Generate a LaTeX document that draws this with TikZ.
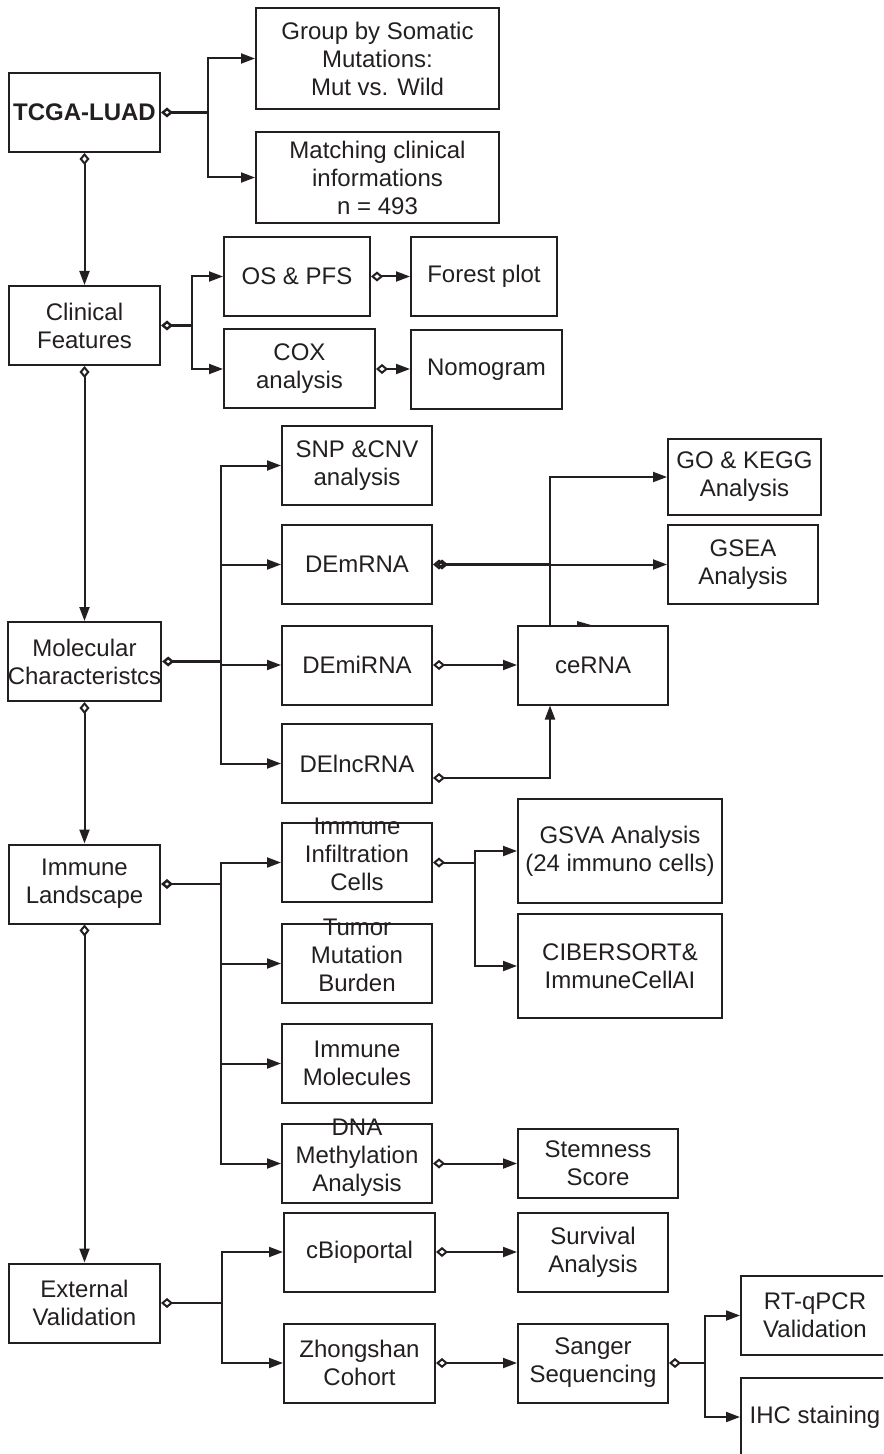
\documentclass[tikz,border=0pt]{standalone}
\usepackage{fontspec}
\setmainfont{Liberation Sans}
\usetikzlibrary{arrows.meta}
\definecolor{ink}{RGB}{35,31,32}
\newcommand{\overstack}[1]{\smash{\begin{tabular}{@{}c@{}}#1\end{tabular}}}

\begin{document}
\begin{tikzpicture}[x=0.5pt,y=-0.5pt,color=ink,line width=1pt,
    box/.style={draw,inner sep=0pt,minimum width=75.5pt,minimum height=39.5pt,align=center,font=\fontsize{12}{14}\selectfont},
    link/.style={-{Triangle[length=7pt,width=5pt]}},
    dlink/.style={{Diamond[open,length=6pt,width=5pt]}-{Triangle[length=7pt,width=5pt]}},
    dline/.style={{Diamond[open,length=6pt,width=5pt]}-}]

            \useasboundingbox (0,0) rectangle (883,1454);
            \clip (0,0) rectangle (883,1454);

            % left column
            \node[box] (tcga) at (84.5,112.5) {\bfseries TCGA-LUAD};
            \node[box] (clin) at (84.5,325.5) {Clinical\\Features};
            \node[box] (mol) at (84.5,661.5) {Molecular\\Characteristcs};
            \node[box] (imm) at (84.5,884) {Immune\\Landscape};
            \node[box] (ext) at (84.5,1303) {External\\Validation};

            \node[box, minimum width=121.5pt, minimum height=50.5pt] (grp) at (377.5,58.5) {Group by Somatic\\Mutations:\\Mut vs. Wild};
            \node[box, minimum width=121.5pt, minimum height=45.5pt] (match) at (377.5,177.5) {Matching clinical\\informations\\n = 493};
            \node[box, minimum width=73pt] (os) at (297,276.5) {OS \& PFS};
            \node[box] (cox) at (299.5,369) {COX\\analysis};
            \node[box, minimum width=73pt] (forest) at (484,276.5) {Forest plot};
            \node[box] (nomo) at (486.5,370) {Nomogram};

            \node[box, minimum width=75pt] (snp) at (357,465.5) {SNP \&CNV\\analysis};
            \node[box, minimum width=75pt] (dem) at (357,564.5) {DEmRNA};
            \node[box, minimum width=75pt] (demi) at (357,665) {DEmiRNA};
            \node[box, minimum width=75pt] (delnc) at (357,763.5) {DElncRNA};
            \node[box, minimum width=75pt] (cer) at (593,665) {ceRNA};
            \node[box, minimum width=76.5pt, minimum height=38pt] (go) at (744.5,477) {GO \& KEGG\\Analysis};
            \node[box, minimum width=75pt] (gsea) at (743,564.5) {GSEA\\Analysis};

            \node[box, minimum width=75pt] (iic) at (357,862.5) {\overstack{Immune\\Infiltration\\Cells}};
            \node[box, minimum width=75pt] (tmb) at (357,963.5) {\overstack{Tumor\\Mutation\\Burden}};
            \node[box, minimum width=75pt] (immol) at (357,1063.5) {Immune\\Molecules};
            \node[box, minimum width=75pt] (dna) at (357,1163.5) {\overstack{DNA\\Methylation\\Analysis}};
            \node[box, minimum width=102pt, minimum height=52pt] (gsva) at (620,851) {GSVA Analysis\\(24 immuno cells)};
            \node[box, minimum width=102pt, minimum height=52pt] (cib) at (620,966) {CIBERSORT\&\\ImmuneCellAI};
            \node[box, minimum width=80pt, minimum height=34.5pt] (stem) at (598,1163.5) {Stemness\\Score};

            \node[box] (cbio) at (359.5,1252) {cBioportal};
            \node[box] (zhong) at (359.5,1363) {Zhongshan\\Cohort};
            \node[box, minimum width=75pt] (surv) at (593,1252.5) {Survival\\Analysis};
            \node[box, minimum width=75pt] (sang) at (593,1363) {Sanger\\Sequencing};
            \node[box, minimum width=74pt] (rtq) at (815,1315.5) {RT-qPCR\\Validation};
            \node[box, minimum width=74pt, minimum height=39pt] (ihc) at (815,1417) {IHC staining};

            % connectors
            \draw[dline, line width=1.2pt] (tcga.east) -- (208,112.5) coordinate (t1);
            \draw[link] (t1) |- (grp.west);
            \draw[link] (t1) |- (match.west);
            \draw[dlink] (tcga.south) -- (clin.north);

            \draw[dline, line width=1.2pt] (clin.east) -- (192,325.5) coordinate (c1);
            \draw[link] (c1) |- (os.west);
            \draw[link] (c1) |- (cox.west);
            \draw[dlink] (os.east) -- (forest.west);
            \draw[dlink] (cox.east) -- (cox.east -| nomo.west);
            \draw[dlink] (clin.south) -- (mol.north);

            \draw[dline, line width=1.2pt] (mol.east) -- (221,661.5) coordinate (m1);
            \foreach \n in {snp,dem,demi,delnc}
                \draw[link] (m1) |- (\n.west);
            \coordinate (r1) at (550,778);
            \draw[dlink] (dem.east) -- (gsea.west);
            \draw[dline, line width=1.2pt] ([xshift=1.5pt]dem.east) -- (dem.east -| r1);
            \draw[link] (r1 |- cer.north) |- (go.west);
            \fill (577,621) -- (591,625) -- (577,625.5) -- cycle;
            \draw[dlink] (demi.east) -- (cer.west);
            \draw[dlink] (delnc.east |- r1) -- (r1) -- (r1 |- cer.south);
            \draw[dlink] (mol.south) -- (imm.north);

            \draw[dline, line width=1.2pt] (imm.east) -- (221,884) coordinate (i1);
            \foreach \n in {iic,tmb,immol,dna}
                \draw[link] (i1) |- (\n.west);
            \draw[dline] (iic.east) -- (475,862.5) coordinate (i2);
            \draw[link] (i2) |- (gsva.west);
            \draw[link] (i2) |- (cib.west);
            \draw[dlink] (dna.east) -- (stem.west);
            \draw[dlink] (imm.south) -- (ext.north);

            \draw[dline] (ext.east) -- (222,1303) coordinate (e1);
            \draw[link] (e1) |- (cbio.west);
            \draw[link] (e1) |- (zhong.west);
            \draw[dlink] (cbio.east) -- (cbio.east -| surv.west);
            \draw[dlink] (zhong.east) -- (sang.west);
            \draw[dline] (sang.east) -- (705,1363) coordinate (s1);
            \draw[link] (s1) |- (rtq.west);
            \draw[link] (s1) |- (ihc.west);

        \end{tikzpicture}
\end{document}
